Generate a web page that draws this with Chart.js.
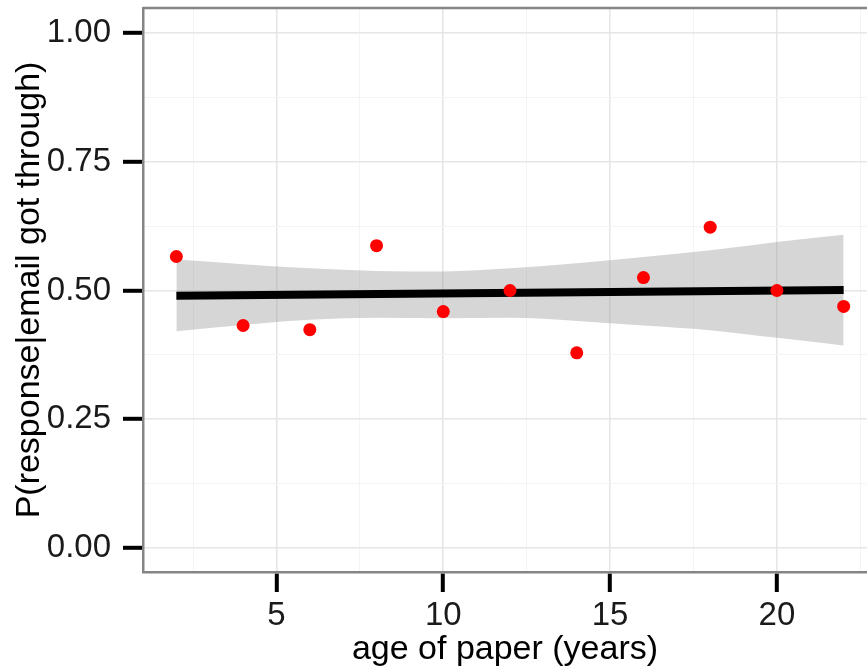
<!DOCTYPE html>
<html><head><meta charset="utf-8">
<script src="https://cdn.jsdelivr.net/npm/chart.js@4/dist/chart.umd.min.js"></script>
<style>html,body{margin:0;padding:0;background:#fff;overflow:hidden}</style>
</head><body>
<canvas id="c" width="867" height="672" style="display:block;width:867px;height:672px"></canvas>
<script>
// ---- data ----
const ages = [2, 4, 6, 8, 10, 12, 14, 16, 18, 20, 22];
const responseRate = [0.566, 0.432, 0.424, 0.587, 0.459, 0.500, 0.379, 0.525, 0.623, 0.500, 0.469];
const fitAges = [2, 22];
const fitValues = [0.490, 0.501];
const bandUpper = [0.560, 0.551, 0.543, 0.538, 0.537, 0.543, 0.553, 0.565, 0.578, 0.594, 0.608];
const bandLower = [0.421, 0.433, 0.443, 0.447, 0.446, 0.447, 0.441, 0.432, 0.423, 0.408, 0.393];
const xMajorTicks = [5, 10, 15, 20];
const xMinorTicks = [2.5, 7.5, 12.5, 17.5, 22.5];
const yMajorTicks = [0, 0.25, 0.5, 0.75, 1];
const yMinorTicks = [0.125, 0.375, 0.625, 0.875];
const xTitle = 'age of paper (years)';
const yTitle = 'P(response|email got through)';

const pts = (xs, ys) => xs.map((x, i) => ({x, y: ys[i]}));
const isMajor = (list, v) => list.some(m => Math.abs(m - v) < 1e-9);
const FONT = "'Liberation Sans', Arial, sans-serif";

const panelBorder = {
  id: 'panelBorder',
  afterDraw(chart) {
    const {ctx, chartArea: a} = chart;
    ctx.save();
    ctx.strokeStyle = '#858585';
    ctx.lineWidth = 2.5;
    ctx.beginPath();
    ctx.moveTo(a.left, a.top);
    ctx.lineTo(a.right, a.top);
    ctx.stroke();
    ctx.restore();
  }
};

function gridOpts(majors) {
  return {
    color: c => (c.tick && isMajor(majors, c.tick.value)) ? '#e6e6e6' : '#f4f4f4',
    lineWidth: c => (c.tick && isMajor(majors, c.tick.value)) ? 1.6 : 1,
    tickColor: c => (c.tick && isMajor(majors, c.tick.value)) ? '#000000' : 'rgba(0,0,0,0)',
    tickWidth: 4,
    tickLength: 20,
    drawOnChartArea: true,
    drawTicks: true
  };
}

new Chart(document.getElementById('c'), {
  type: 'scatter',
  data: {
    datasets: [
      {
        label: 'observed',
        data: pts(ages, responseRate),
        backgroundColor: '#ff0000',
        borderWidth: 0,
        pointRadius: 6.5,
        order: 0
      },
      {
        type: 'line',
        label: 'fit',
        data: pts(fitAges, fitValues),
        borderColor: '#000000',
        borderWidth: 8,
        borderCapStyle: 'butt',
        pointRadius: 0,
        fill: false,
        order: 1
      },
      {
        type: 'line',
        label: 'upper',
        data: pts(ages, bandUpper),
        borderWidth: 0,
        borderColor: 'rgba(0,0,0,0)',
        backgroundColor: 'rgba(153,153,153,0.4)',
        pointRadius: 0,
        cubicInterpolationMode: 'monotone',
        fill: '+1',
        order: 2
      },
      {
        type: 'line',
        label: 'lower',
        data: pts(ages, bandLower),
        borderWidth: 0,
        borderColor: 'rgba(0,0,0,0)',
        pointRadius: 0,
        cubicInterpolationMode: 'monotone',
        fill: false,
        order: 3
      }
    ]
  },
  options: {
    responsive: false,
    animation: false,
    layout: {autoPadding: false, padding: {top: 8, right: 0, bottom: 0, left: 0}},
    plugins: {legend: {display: false}, tooltip: {enabled: false}},
    scales: {
      x: {
        type: 'linear',
        min: 1,
        max: 22.7,
        afterBuildTicks: s => {
          s.ticks = [...xMinorTicks, ...xMajorTicks].sort((a, b) => a - b).map(v => ({value: v}));
        },
        afterFit: s => { s.height = 100; s.paddingLeft = 0; s.paddingRight = 0; },
        ticks: {
          autoSkip: false,
          maxRotation: 0,
          padding: 4,
          color: '#1a1a1a',
          font: {family: FONT, size: 33},
          callback: v => isMajor(xMajorTicks, v) ? String(v) : ''
        },
        grid: gridOpts(xMajorTicks),
        border: {display: true, color: '#858585', width: 2.5},
        title: {
          display: true,
          text: xTitle,
          color: '#000000',
          font: {family: FONT, size: 34},
          padding: {top: 0, bottom: 2}
        }
      },
      y: {
        type: 'linear',
        min: -0.0466,
        max: 1.0485,
        afterBuildTicks: s => {
          s.ticks = [...yMinorTicks, ...yMajorTicks].sort((a, b) => a - b).map(v => ({value: v}));
        },
        afterFit: s => { s.width = 143; s.paddingTop = 0; s.paddingBottom = 0; },
        ticks: {
          autoSkip: false,
          padding: 12,
          color: '#1a1a1a',
          font: {family: FONT, size: 33},
          callback: v => isMajor(yMajorTicks, v) ? v.toFixed(2) : ''
        },
        grid: gridOpts(yMajorTicks),
        border: {display: true, color: '#858585', width: 2.5},
        title: {
          display: true,
          text: yTitle,
          color: '#000000',
          font: {family: FONT, size: 34},
          padding: {top: 9, bottom: 0}
        }
      }
    }
  },
  plugins: [panelBorder]
});
</script>
</body></html>
